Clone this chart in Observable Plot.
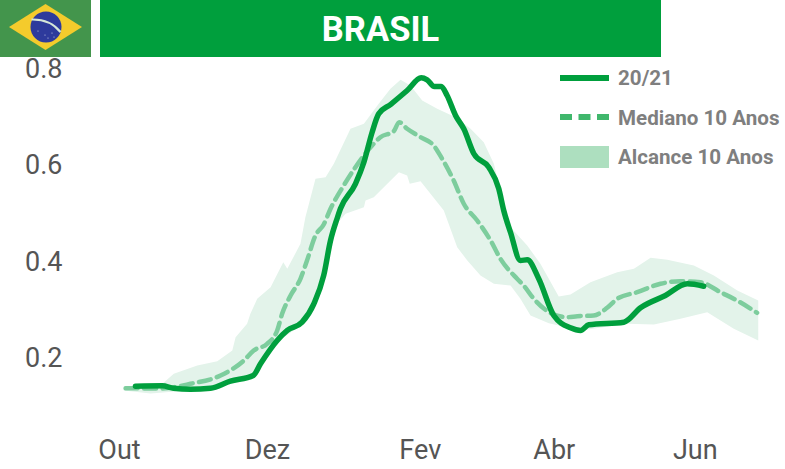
<!DOCTYPE html>
<html lang="pt">
<head>
<meta charset="utf-8">
<script src="https://cdn.jsdelivr.net/npm/d3@7"></script>
<script src="https://cdn.jsdelivr.net/npm/@observablehq/plot@0.6"></script>
<style>
html,body{margin:0;padding:0;background:#fff;overflow:hidden}
#page{position:relative;width:785px;height:469px;font-family:Roboto,sans-serif}
#flag{position:absolute;left:0;top:0;width:91px;height:57px;display:block}
#title{position:absolute;left:100px;top:0;width:561px;height:57px;background:#009f3d;color:#fff;font-weight:700;font-size:34.5px;line-height:59px;text-align:center}
#chart{position:absolute;left:0;top:57px}
#chart svg{display:block;background:transparent}
.key{position:absolute;left:560px;width:49px}
.lab{position:absolute;left:618px;font-weight:700;font-size:20.6px;color:#7f7f7f;line-height:22px;white-space:nowrap}
</style>
</head>
<body>
<div id="page">
  <svg id="flag" viewBox="0 0 91 57">
    <rect width="91" height="57" fill="#43954c"/>
    <path d="M9 27 L45.5 4 L82 27 L45.5 50 Z" fill="#f4cb2c"/>
    <circle cx="46" cy="27" r="15.5" fill="#2e3a9c"/>
    <path d="M31.5 19.5 Q50 19 60.5 32" fill="none" stroke="#d5e6d8" stroke-width="2.2"/>
    <g fill="#c9cfe8"><circle cx="38" cy="31" r=".6"/><circle cx="45" cy="35" r=".6"/><circle cx="52" cy="33" r=".6"/><circle cx="48" cy="38" r=".6"/><circle cx="54" cy="37" r=".6"/></g>
  </svg>
  <div id="title">BRASIL</div>
  <div id="chart"></div>
  <svg class="key" style="top:73px;height:10px"><line x1="0" x2="49" y1="5" y2="5" stroke="#009f3d" stroke-width="6"/></svg>
  <div class="lab" style="top:67px">20/21</div>
  <svg class="key" style="top:112px;height:10px"><line x1="0" x2="49" y1="5" y2="5" stroke="#40b76c" stroke-width="6" stroke-dasharray="12 6.5"/></svg>
  <div class="lab" style="top:107px">Mediano 10 Anos</div>
  <div class="key" style="top:146px;height:22px;background:#addfbf"></div>
  <div class="lab" style="top:146px">Alcance 10 Anos</div>
</div>
<script>
const monthLabels = ["Out", "Dez", "Fev", "Abr", "Jun"];
const monthDays = [0, 63, 128, 185, 245];
const yTicks = [0.2, 0.4, 0.6, 0.8];

const currentDays = [6.8,18.2,23,30.2,38.7,47.2,56.9,60,67.1,71.4,77.7,82.7,86.9,89.8,92.6,94,100.4,104,107.5,110.3,115.3,122.4,128.4,130.9,134,136.9,139.4,143,146.5,150.8,157.1,161.4,163.5,166.4,170.6,173.5,178.4,184.8,191.9,196.2,199.7,214.6,221.7,232.3,241.6,248.6];
const currentValues = [.1425,.1433,.1384,.1363,.1384,.1529,.1647,.189,.2374,.2582,.2754,.3136,.3724,.445,.4907,.5108,.5627,.6076,.6698,.708,.7273,.7564,.7828,.7786,.7647,.7647,.746,.7045,.6769,.625,.5972,.5523,.5073,.4616,.4035,.4049,.3655,.2893,.2638,.2582,.27,.2754,.3053,.3308,.3551,.3501];

const medianDays = [2.6,17.4,30.2,43,52.9,57.1,62.8,67.1,69.2,72.8,77,79.8,83.4,86.9,89.8,95.4,100.4,107.5,111,116.7,119,122.4,128.1,133.7,137.3,142.2,146.5,152.2,157.9,162.1,169.2,172,176.3,184.1,190.5,194.8,201.8,207.5,211.8,220.3,230.2,238.7,247.2,255.7,262.8,271.3];
const medianValues = [.1384,.1378,.1475,.1647,.1958,.2166,.2305,.2582,.2928,.3308,.3655,.4035,.4554,.4782,.5108,.5592,.5972,.6422,.6595,.6719,.6906,.6769,.6595,.6422,.6146,.5696,.5212,.4865,.445,.407,.3655,.3516,.3239,.2928,.2858,.2878,.2893,.3053,.324,.3377,.3551,.3605,.3584,.3377,.3204,.2949];

const upperDays = [1.8,17.4,23.1,33.1,41.6,48,49.4,54.3,55.7,58.6,64.3,69.7,71.4,77,79.1,83.4,87.7,91.2,98.3,104,110.3,115.3,119.6,123.8,128.8,135.2,143,149.4,155,159.3,162.1,166.4,173.5,179.1,186.9,191.9,200.4,211.8,218.9,226,233.1,244.4,252.9,262.9,271.8];
const upperValues = [.1405,.144,.1683,.1856,.1944,.2166,.2442,.272,.2928,.3239,.3481,.4,.3862,.4381,.4934,.5731,.5764,.6042,.6769,.6873,.7288,.7599,.7786,.7668,.7356,.7184,.701,.6769,.6491,.6042,.5488,.4726,.4346,.3966,.3287,.3329,.3584,.3792,.3862,.4091,.405,.3931,.3723,.3412,.3204];

const lowerDays = [1.8,13.2,23.8,38.7,56.6,66.8,77,83.4,88.1,91.9,96.2,104,104.7,108.2,118.9,122.4,123.5,128.1,138,143.7,148,153.6,159.3,166.4,170.6,174.9,182.7,196.2,216,227.4,238.7,250.1,261.4,271.8];
const lowerValues = [.1336,.1274,.1315,.1357,.1606,.2333,.2686,.31,.3827,.4761,.5004,.5141,.528,.5349,.5868,.5799,.5627,.5681,.5073,.4311,.4035,.3723,.3551,.3516,.3239,.2893,.2733,.2582,.2721,.2706,.2824,.296,.2617,.2374];

const zip = (xs, ys) => xs.map((x, i) => ({x, y: ys[i]}));
const band = [...zip(upperDays, upperValues), ...zip(lowerDays, lowerValues).reverse()];

const plot = Plot.plot({
  width: 785,
  height: 412,
  marginLeft: 62,
  marginRight: 0,
  marginTop: 12,
  marginBottom: 40,
  style: {background: "transparent", fontFamily: "Roboto, sans-serif", overflow: "visible"},
  x: {type: "linear", domain: [-24.255, 283.4], label: null},
  y: {domain: [0.0526, 0.8], label: null},
  marks: [
    Plot.axisY({ticks: yTicks, tickFormat: d3.format(".1f"), tickSize: 0, tickPadding: 0, fontSize: 27, fill: "#555", fontWeight: 400, label: null, textAnchor: "end", anchor: "left"}),
    Plot.axisX({ticks: monthDays, tickFormat: d => monthLabels[monthDays.indexOf(d)], tickSize: 0, tickPadding: 10, fontSize: 27, fill: "#555", fontWeight: 400, label: null}),
    Plot.line(band, {x: "x", y: "y", fill: "#e3f3ea", stroke: "none", curve: "linear"}),
    Plot.line(zip(medianDays, medianValues), {x: "x", y: "y", stroke: "#7dcd9d", strokeWidth: 4.5, strokeDasharray: "12 6.5", curve: "monotone-x"}),
    Plot.line(zip(currentDays, currentValues), {x: "x", y: "y", stroke: "#009f3d", strokeWidth: 5.5, curve: "monotone-x"})
  ]
});
document.getElementById("chart").appendChild(plot);
</script>
</body>
</html>
